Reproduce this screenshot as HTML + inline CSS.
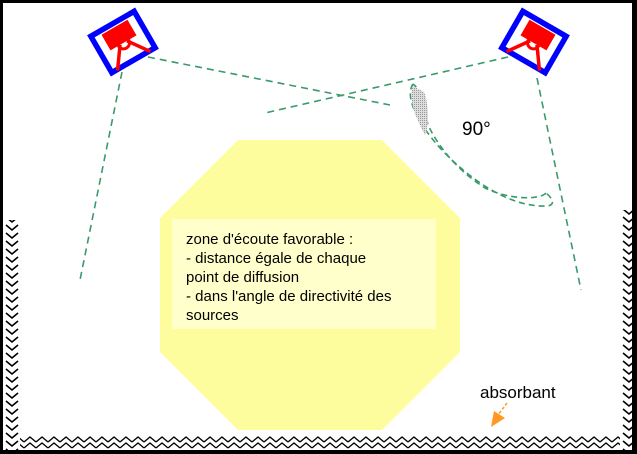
<!DOCTYPE html>
<html><head><meta charset="utf-8"><style>
html,body{margin:0;padding:0;background:#fff}
svg{display:block}
text{font-family:"Liberation Sans",sans-serif;fill:#000}
</style></head><body>
<svg width="637" height="454" viewBox="0 0 637 454" xmlns="http://www.w3.org/2000/svg">
<defs>
<pattern id="zv" x="3" y="0" width="18" height="8" patternUnits="userSpaceOnUse">
<path d="M3,1 L9,6 L15,1" fill="none" stroke="#000" stroke-width="1.6"/>
</pattern>
<pattern id="zh" x="0" y="435" width="12" height="16" patternUnits="userSpaceOnUse">
<path d="M0,7 L6,2 L12,7 M0,13 L6,8 L12,13" fill="none" stroke="#000" stroke-width="1.3"/>
</pattern>
<pattern id="gr" width="2" height="2" patternUnits="userSpaceOnUse">
<rect width="2" height="2" fill="#ddd"/><rect width="1" height="1" fill="#999"/>
</pattern>
<g id="spk">
<rect x="-25" y="-21" width="50" height="42" fill="none" stroke="#0000ff" stroke-width="5.5"/>
<rect x="-15" y="-17" width="30" height="18" fill="#ff0000"/>
<path d="M-6,1 a6,6 0 0 0 12,0" fill="none" stroke="#ff0000" stroke-width="3"/>
<line x1="-4" y1="1" x2="-19" y2="22" stroke="#ff0000" stroke-width="3.5"/>
<line x1="4" y1="1" x2="19" y2="22" stroke="#ff0000" stroke-width="3.5"/>
</g>
</defs>
<rect x="0" y="0" width="637" height="3" fill="#000"/>
<rect x="0" y="0" width="3" height="454" fill="#000"/>
<rect x="632" y="0" width="5" height="454" fill="#000"/>
<rect x="0" y="450" width="637" height="4" fill="#000"/>
<rect x="3" y="220" width="18" height="230" fill="url(#zv)"/>
<g transform="translate(617,0)"><rect x="3" y="210" width="15" height="240" fill="url(#zv)"/></g>
<rect x="20" y="435" width="600" height="15" fill="url(#zh)"/>
<polygon points="238,140 382,140 460,218 460,352 382,430 238,430 160,352 160,218" fill="#fdfd9e"/>
<rect x="172" y="219" width="264" height="110" fill="#ffffcc"/>
<text font-size="15"><tspan x="186" y="244">zone d'écoute favorable :</tspan><tspan x="186" y="263">- distance égale de chaque</tspan><tspan x="186" y="282">point de diffusion</tspan><tspan x="186" y="301">- dans l'angle de directivité des</tspan><tspan x="186" y="320">sources</tspan></text>
<g stroke="#3a9a6a" stroke-width="1.6" stroke-dasharray="7,5" fill="none">
<line x1="148" y1="57" x2="390" y2="105"/>
<line x1="122" y1="72" x2="80" y2="280"/>
<line x1="508" y1="57" x2="265" y2="113"/>
<line x1="537" y1="78" x2="581" y2="290"/>
<path d="M413,84 C405,95 415,120 440,148 C470,180 510,208 548,206 C556,204 552,198 546,193 M546,193 C540,200 510,200 485,188 C460,172 440,150 428,125 C424,110 428,96 413,84" stroke-dasharray="6,4"/>
</g>
<path d="M413,86 C408,96 414,115 425,135 C430,125 428,100 424,92 Z" fill="url(#gr)"/>
<text x="462" y="135" font-size="19">90°</text>
<use href="#spk" transform="translate(534,42) rotate(30)"/>
<use href="#spk" transform="translate(123,42) scale(-1,1) rotate(30)"/>
<text x="480" y="398" font-size="17">absorbant</text>
<line x1="507" y1="403" x2="498" y2="415" stroke="#ff9922" stroke-width="1.5" stroke-dasharray="3,2"/>
<polygon points="491,427 494,411 505,418" fill="#ff9922"/>
</svg>
</body></html>
